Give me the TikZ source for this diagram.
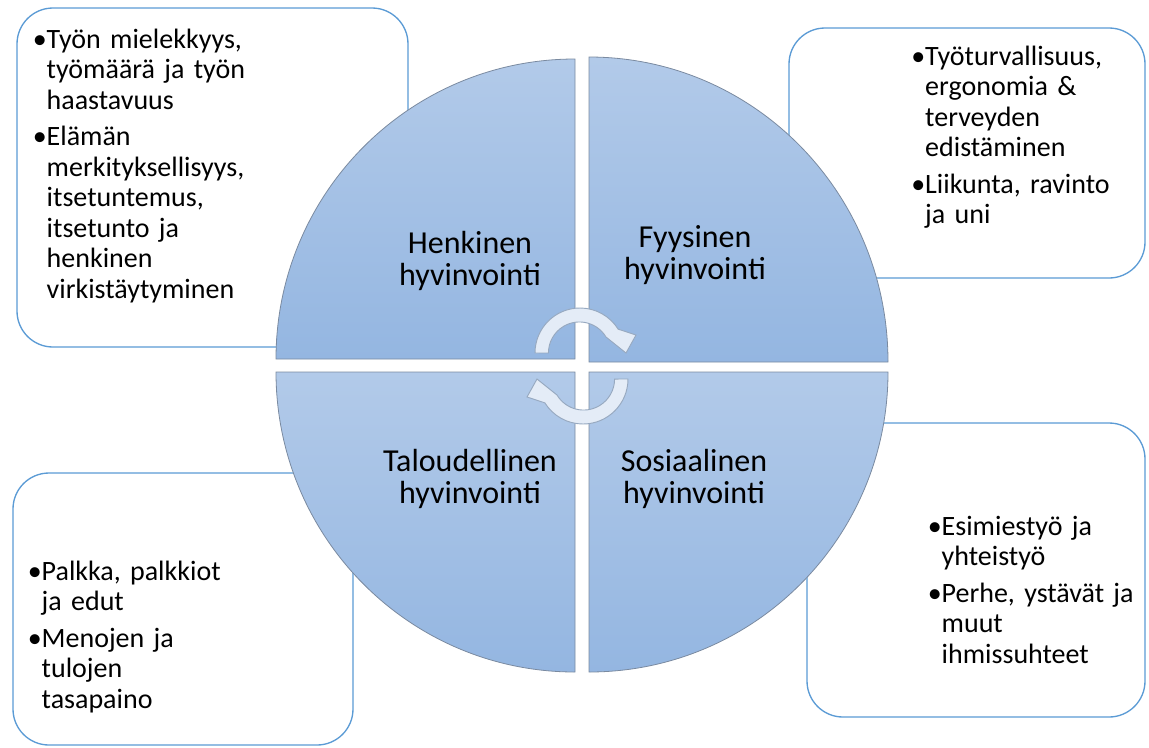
\documentclass[tikz,border=0pt]{standalone}
\definecolor{boxline}{HTML}{5B9BD5}
\definecolor{qtop}{HTML}{B2CAE9}
\definecolor{qbot}{HTML}{94B6E1}
\definecolor{qline}{HTML}{7A8AA0}
\definecolor{arrfill}{HTML}{E4ECF7}
\definecolor{arrline}{HTML}{97A9C0}
\usepackage{fontspec}
\setmainfont{Carlito}
\usepackage{tikz}

% bullet with hanging lines
\newcommand\bul[1]{\setbox0\hbox{•}\hangindent=\wd0\hangafter=1\noindent\box0#1\par}

\begin{document}
\begin{tikzpicture}[x=0.75pt,y=-0.75pt,
	infobox/.style={draw=boxline,line width=1pt,fill=white,rounded corners=27pt},
	boxtxt/.style={font=\fontsize{21}{22.875}\selectfont,text width=240pt,inner sep=0pt,anchor=base west},
	quadlabel/.style={font=\fontsize{24}{24}\selectfont,text width=200pt,align=center,inner sep=0pt,anchor=base},
	cyc/.style={fill=arrfill,draw=arrline,line width=0.7pt}]
	\useasboundingbox (0,0) rectangle (1149,747);
	% boxes behind
	\draw[infobox] (17,8) rectangle (408,347);
	\draw[infobox] (789,28) rectangle (1145,278);
	\draw[infobox] (13,473) rectangle (353,745);
	\draw[infobox] (807,423) rectangle (1145,717);
	% four quarters
	\foreach \vx/\vy/\a/\ry in {575/359/180/300, 589/362/270/305, 589/372/0/300, 575/372/90/300}
	\shadedraw[top color=qtop,bottom color=qbot,draw=qline,line width=0.6pt] (\vx,\vy) -- +(\a:299 and \ry)
	arc[start angle=\a,delta angle=90,x radius=299,y radius=\ry]
	-- cycle;
	% round arrows
	\foreach \cx/\cy/\r in {580/353/0, 583/379/180}
	{
		\begin{scope}[shift={(\cx,\cy)},rotate=\r]
			\filldraw[cyc] (180:45) arc[start angle=180,end angle=328,radius=45]
			-- (56,-18) -- (46,0) -- (26,-16)
			arc[start angle=329,end angle=180,radius=31] -- cycle;
		\end{scope}
	}
	\node[quadlabel] (henkinen) at (470,253) {Henkinen\\hyvinvointi};
	\node[quadlabel] (fyysinen) at (695,247) {Fyysinen\\hyvinvointi};
	\node[quadlabel] (talous) at (470,471) {Taloudellinen\\hyvinvointi};
	\node[quadlabel] (sosiaal) at (694,471) {Sosiaalinen\\hyvinvointi};
	% texts in the boxes
	\node[boxtxt] (henkinen-txt) at (32.5,48) {\bul{Työn mielekkyys,\newline työmäärä ja työn\newline haastavuus}\vspace{4.5pt}\bul{Elämän\newline merkityksellisyys,\newline itsetuntemus,\newline itsetunto ja\newline henkinen\newline virkistäytyminen}};
	\node[boxtxt] (fyysinen-txt) at (911,65) {\bul{Työturvallisuus,\newline ergonomia \&\newline terveyden\newline edistäminen}\vspace{4.5pt}\bul{Liikunta, ravinto\newline ja uni}};
	\node[boxtxt] (talous-txt) at (27.5,580) {\bul{Palkka, palkkiot\newline ja edut}\vspace{4.5pt}\bul{Menojen ja\newline tulojen\newline tasapaino}};
	\node[boxtxt] (sosiaal-txt) at (927.5,535) {\bul{Esimiestyö ja\newline yhteistyö}\vspace{4.5pt}\bul{Perhe, ystävät ja\newline muut\newline ihmissuhteet}};
\end{tikzpicture}
\end{document}
